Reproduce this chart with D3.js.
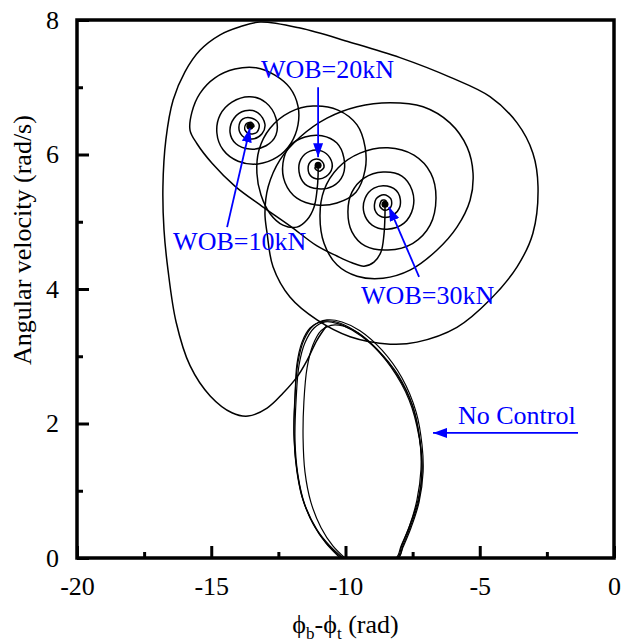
<!DOCTYPE html>
<html>
<head>
<meta charset="utf-8">
<script src="https://cdn.jsdelivr.net/npm/d3@7"></script>
<style>
body{margin:0;background:#fff}
svg{display:block}
text{font-family:"Liberation Serif","Times New Roman",serif}
</style>
</head>
<body>
<svg width="621" height="644"></svg>
<script>
// axis ticks
const xTicks = [-20, -15, -10, -5, 0]
const xMinor = [-17.5, -12.5, -7.5, -2.5]
const yTicks = [0, 2, 4, 6, 8]
const yMinor = [1, 3, 5, 7]

// no control: stick-slip limit cycle, several passes
const noControl = [
  [[-10.09,0],[-10.58,0.18],[-11.06,0.42],[-11.51,0.79],[-11.77,1.23],[-11.88,1.75],[-11.84,2.35],[-11.73,2.87],[-11.51,3.20],[-11.17,3.42],[-10.76,3.51],[-10.32,3.49],[-9.76,3.39],[-9.01,3.17],[-8.16,2.77],[-7.52,2.28],[-7.23,1.75],[-7.15,1.31],[-7.30,0.86],[-7.60,0.49],[-7.90,0.19],[-8.08,0],[-9.1,0]],
  [[-10.02,0],[-10.47,0.18],[-10.91,0.45],[-11.29,0.83],[-11.51,1.28],[-11.58,1.78],[-11.55,2.32],[-11.43,2.83],[-11.21,3.17],[-10.91,3.38],[-10.54,3.46],[-10.09,3.45],[-9.53,3.35],[-8.83,3.11],[-8.04,2.72],[-7.49,2.25],[-7.23,1.75],[-7.19,1.31],[-7.34,0.86],[-7.63,0.46],[-7.93,0.18],[-8.12,0],[-9.1,0]],
  [[-10.20,0],[-10.73,0.22],[-11.21,0.51],[-11.62,0.91],[-11.84,1.38],[-11.92,1.90],[-11.88,2.42],[-11.77,2.91],[-11.55,3.24],[-11.21,3.45],[-10.69,3.54],[-10.13,3.51],[-9.46,3.38],[-8.64,3.09],[-7.90,2.68],[-7.37,2.17],[-7.15,1.68],[-7.11,1.28],[-7.26,0.83],[-7.56,0.45],[-7.86,0.16],[-8.04,0],[-9.1,0]],
  [[-10.13,0],[-10.65,0.19],[-11.14,0.46],[-11.58,0.86],[-11.81,1.31],[-11.92,1.83],[-11.88,2.38],[-11.81,2.88],[-11.62,3.21],[-11.32,3.42],[-10.95,3.51],[-10.47,3.52],[-9.87,3.43],[-9.12,3.21],[-8.31,2.84],[-7.63,2.35],[-7.26,1.80],[-7.15,1.34],[-7.26,0.88],[-7.56,0.49],[-7.86,0.19],[-8.04,0],[-9.1,0]]
]

// WOB = 30 kN: leaves the limit cycle, big loop, spirals in
const wob30 = [[-10.69,3.46],[-11.06,3.24],[-11.43,2.94],[-11.81,2.69],[-12.33,2.45],[-12.92,2.23],[-13.63,2.11],[-14.23,2.16],[-15.04,2.41],[-15.79,2.86],[-16.31,3.51],[-16.61,4.28],[-16.76,4.88],[-16.80,5.52],[-16.69,6.22],[-16.42,6.81],[-15.98,7.23],[-15.42,7.55],[-14.67,7.78],[-13.93,7.90],[-13.18,7.97],[-11.69,7.88],[-9.83,7.67],[-7.97,7.44],[-6.11,7.15],[-4.62,6.86],[-3.61,6.47],[-3.02,6.02],[-2.83,5.52],[-3.02,4.83],[-3.61,4.33],[-4.62,3.84],[-5.85,3.43],[-7.34,3.21],[-8.34,3.18],[-9.83,3.29],[-11.06,3.54],[-12.07,3.88],[-12.70,4.33],[-12.92,4.83],[-13.00,5.13],[-12.88,5.52],[-12.44,5.92],[-11.69,6.26],[-10.69,6.54],[-9.57,6.71],[-8.34,6.77],[-7.11,6.71],[-6.11,6.47],[-5.47,6.11],[-5.25,5.72],[-5.36,5.32],[-5.85,4.92],[-6.59,4.58],[-7.60,4.28],[-8.60,4.16],[-9.57,4.19],[-10.32,4.36],[-10.80,4.68],[-10.95,5.10],[-10.80,5.47],[-10.28,5.80],[-9.46,6.02],[-8.42,6.10],[-7.45,5.99],[-6.82,5.72],[-6.63,5.35],[-6.85,4.95],[-7.49,4.68],[-8.42,4.58],[-9.27,4.64],[-9.76,4.85],[-9.91,5.15],[-9.76,5.44],[-9.31,5.65],[-8.60,5.74],[-7.90,5.68],[-7.52,5.47],[-7.49,5.20],[-7.82,4.98],[-8.45,4.89],[-9.01,4.95],[-9.31,5.13],[-9.27,5.35],[-8.94,5.50],[-8.45,5.53],[-8.04,5.43],[-7.97,5.23],[-8.23,5.10],[-8.64,5.07],[-8.90,5.17],[-8.86,5.34],[-8.57,5.40],[-8.31,5.34],[-8.31,5.22],[-8.53,5.17],[-8.72,5.23],[-8.64,5.32],[-8.49,5.31],[-8.53,5.26]]

// WOB = 10 kN
const wob10 = [[-8.53,5.26],[-8.53,5.10],[-8.57,4.80],[-8.68,4.55],[-8.94,4.40],[-9.31,4.34],[-9.76,4.39],[-10.32,4.49],[-11.06,4.64],[-12.07,4.94],[-13.11,5.23],[-14.12,5.53],[-14.97,5.87],[-15.53,6.16],[-15.79,6.36],[-15.72,6.63],[-15.42,6.91],[-14.86,7.14],[-14.12,7.27],[-13.33,7.29],[-12.63,7.18],[-12.07,6.99],[-11.77,6.72],[-11.77,6.44],[-12.03,6.17],[-12.55,5.96],[-13.26,5.86],[-14.00,5.90],[-14.56,6.07],[-14.79,6.32],[-14.67,6.59],[-14.23,6.78],[-13.56,6.86],[-12.96,6.77],[-12.59,6.54],[-12.59,6.29],[-12.96,6.13],[-13.56,6.08],[-14.08,6.16],[-14.30,6.33],[-14.15,6.54],[-13.74,6.65],[-13.26,6.62],[-13.00,6.45],[-13.11,6.31],[-13.48,6.23],[-13.85,6.28],[-13.97,6.41],[-13.82,6.53],[-13.48,6.54],[-13.22,6.45],[-13.30,6.33],[-13.56,6.31],[-13.74,6.36],[-13.71,6.45],[-13.52,6.48],[-13.41,6.42],[-13.56,6.39]]

// WOB = 20 kN
const wob20 = [[-11.02,5.84],[-11.02,5.70],[-11.06,5.47],[-11.17,5.22],[-11.43,5.03],[-11.81,4.92],[-12.33,4.95],[-12.81,5.12],[-13.15,5.40],[-13.30,5.72],[-13.22,6.07],[-12.81,6.39],[-12.07,6.63],[-11.21,6.72],[-10.28,6.66],[-9.57,6.44],[-9.27,6.11],[-9.27,5.77],[-9.61,5.44],[-10.32,5.28],[-11.06,5.25],[-11.81,5.35],[-12.25,5.58],[-12.33,5.87],[-12.07,6.13],[-11.51,6.26],[-10.88,6.28],[-10.32,6.17],[-10.06,5.95],[-10.09,5.70],[-10.47,5.53],[-11.02,5.49],[-11.51,5.56],[-11.73,5.74],[-11.66,5.93],[-11.32,6.05],[-10.88,6.05],[-10.58,5.95],[-10.50,5.80],[-10.73,5.67],[-11.10,5.64],[-11.36,5.72],[-11.36,5.86],[-11.14,5.93],[-10.88,5.90],[-10.80,5.81],[-10.99,5.75],[-11.14,5.80],[-11.06,5.84]]

// equilibrium points
const centers = [[-13.56, 6.42], [-11.02, 5.84], [-8.53, 5.26]]

// annotations: text, text anchor point, arrow from -> to
const notes = [
  {text: 'WOB=10kN', tx: -16.42, ty: 4.58, from: [-14.41, 4.92], to: [-13.56, 6.39]},
  {text: 'WOB=20kN', tx: -13.15, ty: 7.14, from: [-11.02, 7.00], to: [-11.02, 5.96]},
  {text: 'WOB=30kN', tx: -9.42, ty: 3.78, from: [-7.26, 4.18], to: [-8.38, 5.22]},
  {text: 'No Control', tx: -5.81, ty: 1.99, from: [-1.34, 1.86], to: [-6.74, 1.86]}
]

const margin = {top: 20, right: 7, bottom: 86, left: 77}
const width = 621 - margin.left - margin.right
const height = 644 - margin.top - margin.bottom
const blue = '#0000ff'

const x = d3.scaleLinear().domain([-20, 0]).range([0, width])
const y = d3.scaleLinear().domain([0, 8]).range([height, 0])

const svg = d3.select('svg')
const defs = svg.append('defs')
defs.append('clipPath').attr('id', 'plot')
    .append('rect').attr('width', width).attr('height', height)
defs.append('marker')
    .attr('id', 'head')
    .attr('markerUnits', 'userSpaceOnUse')
    .attr('viewBox', '0 0 14 10')
    .attr('markerWidth', 14).attr('markerHeight', 10)
    .attr('refX', 14).attr('refY', 5)
    .attr('orient', 'auto')
    .append('path').attr('d', 'M0,0L14,5L0,10Z').attr('fill', blue)

const g = svg.append('g').attr('transform', `translate(${margin.left},${margin.top})`)

const line = d3.line()
    .x(d => x(d[0]))
    .y(d => y(d[1]))
    .curve(d3.curveCatmullRom.alpha(0.5))

const curves = g.append('g').attr('clip-path', 'url(#plot)')
curves.selectAll('.nc')
    .data(noControl)
    .enter().append('path')
    .attr('d', line)
    .attr('fill', 'none').attr('stroke', '#000').attr('stroke-width', 1.2)
curves.selectAll('.wob')
    .data([wob30, wob10, wob20])
    .enter().append('path')
    .attr('d', line)
    .attr('fill', 'none').attr('stroke', '#000').attr('stroke-width', 1.5)
curves.selectAll('.eq')
    .data(centers)
    .enter().append('circle')
    .attr('cx', d => x(d[0])).attr('cy', d => y(d[1])).attr('r', 3.5)
    .attr('fill', '#000')

// frame + ticks
const fmt = d => String(d)
const xAx = g.append('g').attr('transform', `translate(0,${height})`)
    .call(d3.axisBottom(x).tickValues(xTicks).tickSize(-12).tickPadding(19).tickFormat(fmt))
const xAxMin = g.append('g').attr('transform', `translate(0,${height})`)
    .call(d3.axisBottom(x).tickValues(xMinor).tickSize(-6).tickFormat(''))
const yAx = g.append('g')
    .call(d3.axisLeft(y).tickValues(yTicks).tickSize(-12).tickPadding(18).tickFormat(fmt))
const yAxMin = g.append('g')
    .call(d3.axisLeft(y).tickValues(yMinor).tickSize(-6).tickFormat(''))
;[xAx, xAxMin, yAx, yAxMin].forEach(a => {
  a.select('.domain').remove()
  a.selectAll('line').attr('stroke-width', 3)
  a.selectAll('text').attr('font-size', 26).attr('fill', '#000')
    .style('font-family', '"Liberation Serif", serif')
})
g.append('rect')
    .attr('width', width).attr('height', height)
    .attr('fill', 'none').attr('stroke', '#000').attr('stroke-width', 3.5)

// annotations
const ann = g.append('g')
ann.selectAll('line')
    .data(notes)
    .enter().append('line')
    .attr('x1', d => x(d.from[0])).attr('y1', d => y(d.from[1]))
    .attr('x2', d => x(d.to[0])).attr('y2', d => y(d.to[1]))
    .attr('stroke', blue).attr('stroke-width', 1.8)
    .attr('marker-end', 'url(#head)')
ann.selectAll('text')
    .data(notes)
    .enter().append('text')
    .attr('x', d => x(d.tx)).attr('y', d => y(d.ty))
    .attr('font-size', 26).attr('fill', blue)
    .text(d => d.text)

// axis titles
svg.append('text')
    .attr('transform', 'translate(31,240) rotate(-90)')
    .attr('text-anchor', 'middle')
    .attr('font-size', 26)
    .text('Angular velocity (rad/s)')

const xt = svg.append('text')
    .attr('x', margin.left + width / 2).attr('y', 633)
    .attr('text-anchor', 'middle')
    .attr('font-size', 26)
xt.append('tspan').text('\u03d5')
xt.append('tspan').attr('font-size', 17).attr('dy', 6).text('b')
xt.append('tspan').attr('dy', -6).text('-\u03d5')
xt.append('tspan').attr('font-size', 17).attr('dy', 6).text('t')
xt.append('tspan').attr('dy', -6).text(' (rad)')
</script>
</body>
</html>
